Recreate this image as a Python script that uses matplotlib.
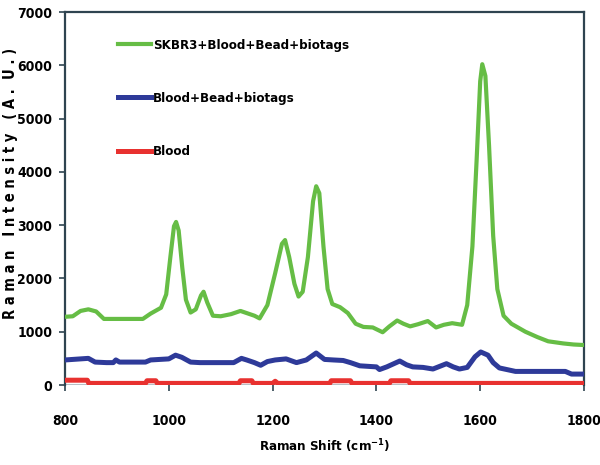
import matplotlib
matplotlib.use("Agg")
import numpy as np
from matplotlib import pyplot as plt

# Raman spectra
skbr3_x = [800, 815, 830, 845, 860, 875, 950, 965, 985, 995, 1003, 1010, 1014, 1019,
           1026, 1033, 1042, 1052, 1062, 1067, 1074, 1085, 1100, 1120, 1138, 1150,
           1165, 1175, 1190, 1205, 1218, 1224, 1232, 1242, 1250, 1258, 1268, 1278,
           1284, 1290, 1298, 1306, 1315, 1330, 1345, 1360, 1375, 1393, 1412, 1425,
           1440, 1452, 1465, 1480, 1499, 1515, 1530, 1546, 1565, 1575, 1585, 1593,
           1600, 1604, 1610, 1617, 1625, 1633, 1645, 1660, 1687, 1710, 1731, 1760,
           1780, 1800]
skbr3_y = [1280, 1290, 1390, 1420, 1380, 1240, 1240, 1340, 1450, 1700, 2400, 2980, 3060, 2900,
           2200, 1600, 1360, 1420, 1680, 1750, 1550, 1300, 1290, 1330, 1390, 1350,
           1300, 1250, 1500, 2100, 2650, 2720, 2400, 1900, 1660, 1750, 2400, 3450,
           3730, 3600, 2600, 1800, 1520, 1460, 1350, 1150, 1090, 1080, 990, 1100,
           1210, 1150, 1100, 1140, 1200, 1080, 1130, 1160, 1130, 1500, 2600, 4200,
           5700, 6020, 5800, 4500, 2800, 1800, 1300, 1150, 1000, 900, 820, 780,
           760, 750]

bead_x = [800, 815, 845, 858, 880, 893, 898, 905, 955, 965, 1000, 1013, 1025, 1042,
          1060, 1125, 1140, 1150, 1165, 1177, 1190, 1205, 1226, 1246, 1265, 1284,
          1300, 1317, 1336, 1350, 1368, 1400, 1406, 1420, 1445, 1458, 1470, 1490,
          1509, 1535, 1548, 1560, 1575, 1590, 1601, 1615, 1625, 1637, 1668, 1764,
          1776, 1800]
bead_y = [470, 480, 500, 430, 420, 420, 470, 430, 430, 470, 490, 560, 520, 430,
          420, 420, 500, 470, 420, 370, 440, 470, 490, 420, 470, 600,
          480, 470, 460, 420, 360, 340, 290, 340, 450, 380, 340, 330,
          300, 400, 340, 300, 330, 530, 620, 560, 420, 320, 255, 255,
          205, 205]

blood_x = [800, 843, 846, 955, 958, 975, 978, 1135, 1138, 1160, 1163, 1200, 1205, 1210,
           1310, 1313, 1350, 1353, 1425, 1428, 1462, 1465, 1800]
blood_y = [90, 90, 30, 30, 80, 80, 30, 30, 80, 80, 30, 30, 70, 30,
           30, 80, 80, 30, 30, 80, 80, 30, 30]

labels = ['SKBR3+Blood+Bead+biotags', 'Blood+Bead+biotags', 'Blood']
colors = ['#66bd45', '#2e3a99', '#e8312f']

plt.rcParams['font.family'] = ['DejaVu Sans']
plt.rcParams['font.stretch'] = 'condensed'

fig = plt.figure(figsize=(6, 4.65), dpi=100)
ax = fig.add_axes([65 / 600, 1 - 385 / 465, 519 / 600, 373 / 465])

ax.axhline(0, color='#b8bec4', lw=1.5, zorder=1)
ax.plot(skbr3_x, skbr3_y, color=colors[0], lw=3, label=labels[0], zorder=3)
ax.plot(bead_x, bead_y, color=colors[1], lw=3.6, label=labels[1], zorder=3)
ax.plot(blood_x, blood_y, color=colors[2], lw=3.6, label=labels[2], zorder=3)

ax.set_xlim(800, 1800)
ax.set_ylim(0, 7000)
ax.set_xticks(np.arange(800, 1801, 200))
ax.set_yticks(np.arange(0, 7001, 1000))

spine_color = '#2f4450'
for side in ['left', 'right', 'top']:
    ax.spines[side].set_color(spine_color)
    ax.spines[side].set_linewidth(1.6)
ax.spines['bottom'].set_visible(False)

ax.tick_params(axis='y', direction='out', length=4, width=1.2, color=spine_color,
               labelsize=10, pad=5)
ax.tick_params(axis='x', direction='out', length=4, width=1.2, color=spine_color,
               labelsize=10, pad=17)
for t in ax.get_xticklabels() + ax.get_yticklabels():
    t.set_fontweight('bold')

ax.set_xlabel('Raman Shift (cm$^{\\mathbf{-1}}$)', fontsize=9.5, fontweight='bold')
ax.xaxis.set_label_coords(0.5, -0.14)
ax.set_ylabel('R a m a n   I n t e n s i t y   ( A .  U . )', fontsize=10.5, fontweight='bold')
ax.yaxis.set_label_coords(-0.09, 0.54)

leg = ax.legend(loc='upper left', bbox_to_anchor=(0.08, 0.96), frameon=False,
                handlelength=2.5, handletextpad=0.15, labelspacing=3.05,
                prop={'weight': 'bold', 'size': 9.5, 'stretch': 'condensed'})

fig.savefig('out.png', dpi=100)
